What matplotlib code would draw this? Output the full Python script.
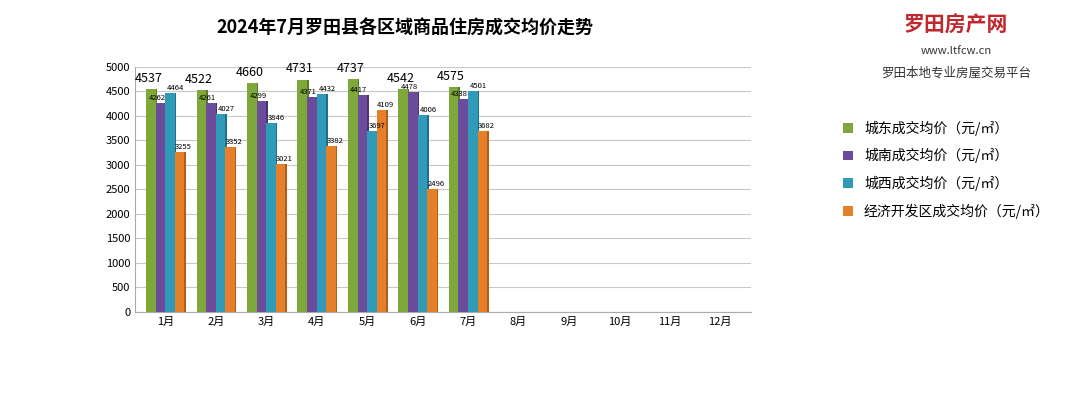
import matplotlib
matplotlib.use("Agg")
import matplotlib.pyplot as plt
import numpy as np

plt.rcParams['font.family'] = ['Noto Sans CJK SC', 'DejaVu Sans']

months = ["1月","2月","3月","4月","5月","6月","7月","8月","9月","10月","11月","12月"]
east = [4537, 4522, 4660, 4731, 4737, 4542, 4575]
south = [4262, 4261, 4299, 4371, 4417, 4478, 4338]
west = [4464, 4027, 3846, 4432, 3697, 4006, 4501]
dev = [3255, 3352, 3021, 3382, 4109, 2496, 3682]
series = [east, south, west, dev]
names = ["城东成交均价（元/㎡）", "城南成交均价（元/㎡）", "城西成交均价（元/㎡）", "经济开发区成交均价（元/㎡）"]
colors = ["#7fa83a", "#6b4c9a", "#2f9bb8", "#e57f2a"]
sides = ["#5a7a25", "#4a3370", "#1f7088", "#b35d17"]

fig = plt.figure(figsize=(10.8, 4.16), dpi=100)
ax = fig.add_axes([0.125, 0.25, 0.57, 0.59])
w = 0.19
for i, (s, c, sc) in enumerate(zip(series, colors, sides)):
    x = np.arange(len(s)) + (i - 1.5) * w
    ax.bar(x + 0.03, s, width=w, color=sc, zorder=2)
    ax.bar(x, s, width=w, color=c, label=names[i], zorder=3)
    for xi, v in zip(x, s):
        if i == 0:
            ax.text(xi - 0.05, v + 90, str(v), ha='center', va='bottom', fontsize=9, zorder=4)
        elif i == 1:
            ax.text(xi + 0.1, v + 20, str(v), ha='right', va='bottom', fontsize=5.5, zorder=4)
        elif i == 2:
            ax.text(xi - 0.06, v + 20, str(v), ha='left', va='bottom', fontsize=5.5, zorder=4)
        else:
            ax.text(xi + 0.08, v + 20, str(v), ha='center', va='bottom', fontsize=5.5, zorder=4)

ax.set_xlim(-0.6, 11.6)
ax.set_ylim(0, 5000)
ax.set_yticks(range(0, 5001, 500))
ax.tick_params(axis='both', labelsize=8, length=0)
ax.set_xticks(range(12))
ax.set_xticklabels(months)
ax.grid(axis='y', color='#c8c8c8', lw=0.8, zorder=0)
for sp in ['top', 'right']:
    ax.spines[sp].set_visible(False)
ax.spines['left'].set_color('#aaaaaa')
ax.spines['bottom'].set_color('#aaaaaa')

fig.text(0.375, 0.92, "2024年7月罗田县各区域商品住房成交均价走势", ha='center',
         fontsize=13, fontweight='bold')
fig.text(0.885, 0.925, "罗田房产网", ha='center', fontsize=15, color='#c0282d', fontweight='bold')
fig.text(0.885, 0.87, "www.ltfcw.cn", ha='center', fontsize=8, color='#333333')
fig.text(0.885, 0.815, "罗田本地专业房屋交易平台", ha='center', fontsize=9, color='#333333')

ax.legend(loc='center left', bbox_to_anchor=(1.13, 0.58), frameon=False,
          fontsize=10, handlelength=0.7, handleheight=0.7, labelspacing=0.9)
fig.savefig("out.png")
